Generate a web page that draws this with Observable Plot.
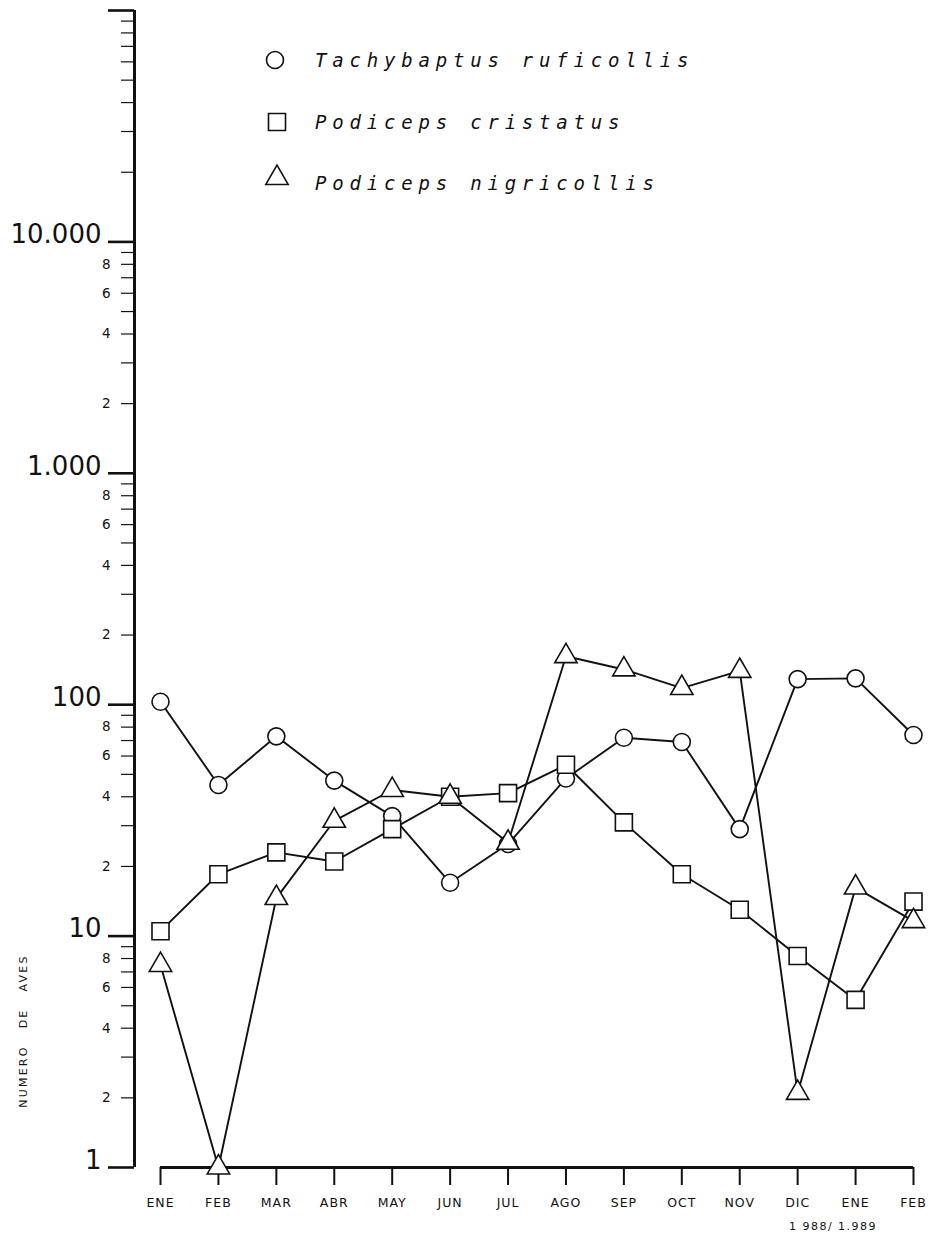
<!DOCTYPE html>
<html><head><meta charset="utf-8">
<script src="https://cdn.jsdelivr.net/npm/d3@7"></script>
<script src="https://cdn.jsdelivr.net/npm/@observablehq/plot@0.6"></script>
<style>
body{margin:0;background:#fff;}
#wrap{position:relative;width:934px;height:1235px;overflow:hidden;}
#wrap > svg{position:absolute;left:0;top:0;}
.note{position:absolute;font-family:"DejaVu Sans",sans-serif;color:#111;white-space:pre;}
</style></head><body>
<div id="wrap"></div>
<script>
const months = ["ENE","FEB","MAR","ABR","MAY","JUN","JUL","AGO","SEP","OCT","NOV","DIC","ENE","FEB"];
const tachybaptus = [103,45,73,47,33,17,25,48,72,69,29,129,130,74];
const cristatus = [10.5,18.5,23,21,29,40,41.5,55,31,18.5,13,8.2,5.3,14.1];
const nigricollis = [7.5,1,14.6,31.5,42.8,40,25.3,162,142,118,140,2.1,16.2,11.6];
const seriesNames = ["Tachybaptus ruficollis","Podiceps cristatus","Podiceps nigricollis"];
const seriesSymbols = ["circle","square","triangle"];
const majorTicks = [1,10,100,1000,10000,100000];
const majorLabels = ["1","10","100","1.000","10.000",""];
const minorMultipliers = [2,3,4,5,6,7,8,9];
const labeledMultipliers = [2,4,6,8];
const labeledDecades = [1,10,100,1000];
const allDecades = [1,10,100,1000,10000];
const yearLabel = "1 988/ 1.989";
const yTitle = "NUMERO   DE   AVES";

const seriesValues = [tachybaptus, cristatus, nigricollis];
const rows = [];
seriesValues.forEach((vals, s) => vals.forEach((v, i) => rows.push({series: seriesNames[s], i, v})));
const minorTicks = allDecades.flatMap(d => minorMultipliers.map(m => m * d));
const minorLabeled = labeledDecades.flatMap(d => labeledMultipliers.map(m => ({v: m * d, label: String(m)})));
const majorLabeled = majorTicks.map((v, k) => ({v, label: majorLabels[k]}));
const yDomain = [majorTicks[0], majorTicks[majorTicks.length - 1]];
const symbolR = {circle: 8.5, square: 9.6, triangle: 8.3};
const FONT = "DejaVu Sans, sans-serif";

const plot = Plot.plot({
  width: 934, height: 1235,
  marginLeft: 160, marginRight: 21, marginTop: 10, marginBottom: 68,
  style: {fontFamily: FONT, color: "#111", background: "transparent"},
  x: {type: "linear", domain: [0, months.length - 1], axis: null},
  y: {type: "log", domain: yDomain, axis: null},
  marks: [
    Plot.ruleX([0], {y1: yDomain[0], y2: yDomain[1], dx: -26, stroke: "#111", strokeWidth: 3}),
    Plot.ruleY([yDomain[0]], {stroke: "#111", strokeWidth: 3}),
    Plot.axisY(minorTicks, {anchor: "left", tickSize: 13, dx: -26, tickFormat: () => "", label: null, strokeWidth: 1.2}),
    Plot.axisY(majorTicks, {anchor: "left", tickSize: 26, dx: -26, tickFormat: () => "", label: null, strokeWidth: 2.6}),
    Plot.text(minorLabeled, {y: "v", text: "label", frameAnchor: "left", dx: -50, textAnchor: "end", fontSize: 13.5, fill: "#111"}),
    Plot.text(majorLabeled, {y: "v", text: "label", frameAnchor: "left", dx: -59, dy: -7, textAnchor: "end", fontSize: 26, fill: "#111"}),
    Plot.axisX(d3.range(months.length), {anchor: "bottom", tickSize: 18, tickPadding: 13, tickFormat: i => months[i], label: null, fontSize: 12.5, strokeWidth: 2}),
    Plot.line(rows, {x: "i", y: "v", z: "series", stroke: "#111", strokeWidth: 1.9}),
    ...seriesNames.map((name, s) => Plot.dot(rows.filter(r => r.series === name), {
      x: "i", y: "v", symbol: seriesSymbols[s], r: symbolR[seriesSymbols[s]],
      fill: "white", stroke: "#111", strokeWidth: 1.6
    }))
  ]
});
const wrap = document.getElementById("wrap");
wrap.appendChild(plot);
d3.select(plot).selectAll('g[aria-label="x-axis tick label"] text').style("letter-spacing", "1px");

// legend overlay
const leg = d3.select(wrap).append("svg").attr("width", 934).attr("height", 220)
  .style("position", "absolute").style("left", "0px").style("top", "0px");
const legPos = [{sx: 275, sy: 60, ty: 60}, {sx: 277, sy: 122, ty: 122}, {sx: 277, sy: 178, ty: 183}];
const d3sym = {circle: d3.symbolCircle, square: d3.symbolSquare, triangle: d3.symbolTriangle};
seriesNames.forEach((name, s) => {
  const p = legPos[s];
  const r = symbolR[seriesSymbols[s]];
  leg.append("path").attr("d", d3.symbol(d3sym[seriesSymbols[s]], Math.PI * r * r)())
    .attr("transform", `translate(${p.sx},${p.sy})`)
    .attr("fill", "white").attr("stroke", "#111").attr("stroke-width", 1.6);
  leg.append("text").attr("x", 315).attr("y", p.ty).attr("dy", "0.36em")
    .attr("font-family", "DejaVu Sans Mono, monospace").attr("font-style", "oblique")
    .attr("font-size", 19).attr("letter-spacing", "5.8px").attr("fill", "#111").text(name);
});

// year label
const yl = document.createElement("div");
yl.className = "note";
yl.textContent = yearLabel;
Object.assign(yl.style, {left: "833px", top: "1226px", transform: "translate(-50%,-50%)", fontSize: "11px", letterSpacing: "1.5px"});
wrap.appendChild(yl);

// y title
const yt = document.createElement("div");
yt.className = "note";
yt.textContent = yTitle;
Object.assign(yt.style, {left: "23px", top: "1031px", transform: "translate(-50%,-50%) rotate(-90deg)", fontSize: "11px", letterSpacing: "2.2px"});
wrap.appendChild(yt);
</script>
</body></html>
